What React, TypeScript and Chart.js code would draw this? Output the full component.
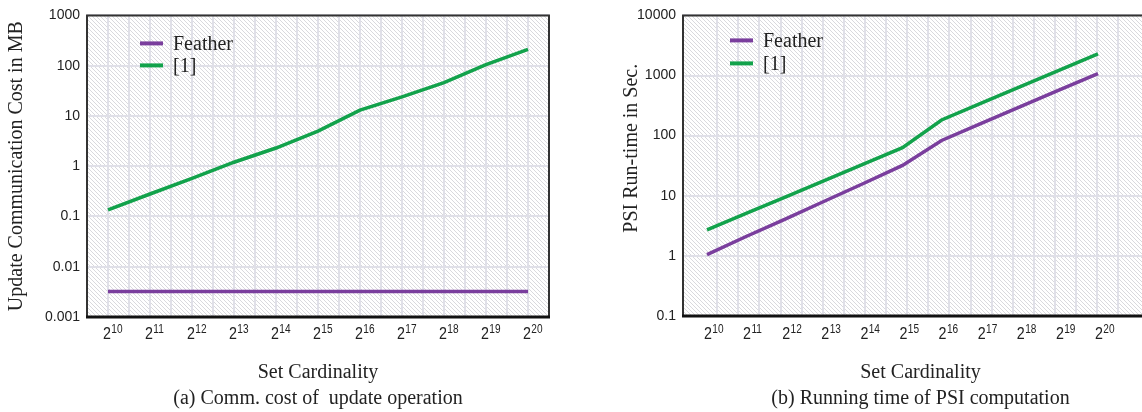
import React, { useEffect, useRef } from 'react';
import { Chart, registerables } from 'chart.js';

Chart.register(...registerables);

// ---- data ----
const exponents = [10, 11, 12, 13, 14, 15, 16, 17, 18, 19, 20];
const seriesNames = ['Feather', '[1]'];
const commFeather = [0.0032, 0.0032, 0.0032, 0.0032, 0.0032, 0.0032, 0.0032, 0.0032, 0.0032, 0.0032, 0.0032];
const commRef1 = [0.135, 0.28, 0.57, 1.2, 2.3, 5, 13, 24, 46, 105, 210];
const psiFeather = [1.05, 2.1, 4.1, 8.1, 16, 32, 83, 158, 300, 570, 1075];
const psiRef1 = [2.7, 5.1, 9.5, 17.9, 33.6, 63, 182, 343, 645, 1215, 2290];
const leftYTicks = [0.001, 0.01, 0.1, 1, 10, 100, 1000];
const leftYTickLabels = ['0.001', '0.01', '0.1', '1', '10', '100', '1000'];
const rightYTicks = [0.1, 1, 10, 100, 1000, 10000];
const rightYTickLabels = ['0.1', '1', '10', '100', '1000', '10000'];
const xBase = '2';
const xTitle = 'Set Cardinality';
const leftCaption = '(a) Comm. cost of  update operation';
const rightCaption = '(b) Running time of PSI computation';
const leftYTitle = 'Update Communication Cost in MB';
const rightYTitle = '       PSI Run-time in Sec.';

const PURPLE = '#7a3e9d';
const GREEN = '#12a24b';
const SANS = '"Liberation Sans", Arial, sans-serif';
const SERIF = '"Liberation Serif", "Times New Roman", serif';

const decorPlugin = {
  id: 'decor',
  beforeDraw(chart: any) {
    const { ctx, chartArea: ca } = chart;
    const tile = document.createElement('canvas');
    tile.width = 4;
    tile.height = 4;
    const g = tile.getContext('2d')!;
    g.fillStyle = '#ffffff';
    g.fillRect(0, 0, 4, 4);
    g.fillStyle = '#d9d9dd';
    for (let i = 0; i < 4; i++) g.fillRect(i, i, 1, 1);
    const pat = ctx.createPattern(tile, 'repeat');
    ctx.save();
    ctx.fillStyle = pat;
    ctx.fillRect(ca.left, ca.top, ca.right - ca.left, ca.bottom - ca.top);
    ctx.restore();
  },
  afterDraw(chart: any, _args: any, opts: any) {
    const { ctx, chartArea: ca } = chart;
    ctx.save();
    // frame
    ctx.strokeStyle = '#333333';
    ctx.lineWidth = 2;
    ctx.beginPath();
    ctx.moveTo(ca.left, ca.bottom);
    ctx.lineTo(ca.left, ca.top);
    ctx.lineTo(ca.right, ca.top);
    ctx.lineTo(ca.right, ca.bottom);
    ctx.stroke();
    ctx.strokeStyle = '#111111';
    ctx.lineWidth = 3;
    ctx.beginPath();
    ctx.moveTo(ca.left - 1, ca.bottom);
    ctx.lineTo(ca.right + 1, ca.bottom);
    ctx.stroke();

    // legend
    const ds = chart.data.datasets;
    ds.forEach((d: any, i: number) => {
      const y = ca.top + opts.legendDY + i * opts.legendGap;
      const x = ca.left + opts.legendDX;
      ctx.strokeStyle = d.borderColor;
      ctx.lineWidth = 4;
      ctx.beginPath();
      ctx.moveTo(x, y);
      ctx.lineTo(x + 23, y);
      ctx.stroke();
      ctx.fillStyle = '#222';
      ctx.font = `20px ${SERIF}`;
      ctx.textBaseline = 'middle';
      ctx.textAlign = 'left';
      ctx.fillText(d.label, x + 33, y + 1);
    });

    // x tick labels 2^n (condensed sans)
    const xs = chart.scales.x;
    ctx.fillStyle = '#222';
    ctx.textBaseline = 'alphabetic';
    ctx.textAlign = 'left';
    const sx = 0.84;
    exponents.forEach((e) => {
      const px = xs.getPixelForValue(e) + opts.labelDX;
      ctx.save();
      ctx.translate(px, 0);
      ctx.scale(sx, 1);
      ctx.font = `17px ${SANS}`;
      ctx.fillText(xBase, 0, 339);
      const w = ctx.measureText(xBase).width;
      ctx.font = `12px ${SANS}`;
      ctx.fillText(String(e), w + 0.5, 333);
      ctx.restore();
    });
    ctx.restore();
  },
};

function makeConfig(p: any) {
  return {
    type: 'line',
    data: {
      datasets: [
        {
          label: seriesNames[0],
          data: exponents.map((e, i) => ({ x: e, y: p.feather[i] })),
          borderColor: PURPLE,
          backgroundColor: PURPLE,
          borderWidth: 3.5,
          pointRadius: 0,
          tension: 0,
        },
        {
          label: seriesNames[1],
          data: exponents.map((e, i) => ({ x: e, y: p.ref1[i] })),
          borderColor: GREEN,
          backgroundColor: GREEN,
          borderWidth: 3.5,
          pointRadius: 0,
          tension: 0,
        },
      ],
    },
    options: {
      animation: false,
      responsive: false,
      maintainAspectRatio: false,
      layout: { padding: { left: 0, top: 11, right: p.padRight, bottom: 0 } },
      plugins: {
        legend: { display: false },
        tooltip: { enabled: false },
        decor: { legendDX: p.legendDX, legendDY: p.legendDY, legendGap: p.legendGap, labelDX: p.labelDX },
      },
      scales: {
        x: {
          type: 'linear',
          position: 'bottom',
          min: p.xMin,
          max: p.xMax,
          ticks: { display: false, stepSize: p.xStep },
          grid: { color: '#e0e0e8', lineWidth: 2, drawTicks: false },
          border: { display: false },
          title: {
            display: true,
            text: [xTitle, p.caption],
            color: '#222',
            font: { family: SERIF, size: 20, lineHeight: 26 / 20 },
            padding: { top: 0, bottom: 0 },
          },
          afterFit: (s: any) => {
            s.height = p.xHeight;
          },
        },
        y: {
          type: 'logarithmic',
          position: 'left',
          min: p.yMin,
          max: p.yMax,
          afterBuildTicks: (s: any) => {
            s.ticks = p.yTicks.map((v: number) => ({ value: v }));
          },
          ticks: {
            callback: (_v: any, i: number) => p.yTickLabels[i],
            color: '#222',
            font: { family: SANS, size: 14 },
            padding: 7,
            autoSkip: false,
          },
          grid: { color: '#e0e0e8', lineWidth: 2, drawTicks: false },
          border: { display: false },
          title: {
            display: true,
            text: p.yTitle,
            color: '#222',
            font: { family: SERIF, size: 20 },
            padding: { top: p.yTitlePad, bottom: 0 },
          },
          afterFit: (s: any) => {
            s.width = p.yWidth;
          },
        },
      },
    },
    plugins: [decorPlugin],
  } as any;
}

function Panel({ left, width, height, config }: any) {
  const ref = useRef<HTMLCanvasElement | null>(null);
  useEffect(() => {
    const chart = new Chart(ref.current as HTMLCanvasElement, config);
    return () => chart.destroy();
  }, []);
  return (
    <canvas
      ref={ref}
      width={width}
      height={height}
      style={{ position: 'absolute', left, top: 0, width, height }}
    />
  );
}

export default function App() {
  const leftCfg = makeConfig({
    feather: commFeather,
    ref1: commRef1,
    yMin: 0.001,
    yMax: 1000,
    yTicks: leftYTicks,
    yTickLabels: leftYTickLabels,
    yTitle: leftYTitle,
    caption: leftCaption,
    xMin: 9.5,
    xMax: 20.5,
    xStep: 0.5,
    xHeight: 95,
    yWidth: 87,
    yTitlePad: 5,
    padRight: 11,
    legendDX: 53,
    legendDY: 28,
    legendGap: 22,
    labelDX: -5,
  });
  const rightCfg = makeConfig({
    feather: psiFeather,
    ref1: psiRef1,
    yMin: 0.1,
    yMax: 10000,
    yTicks: rightYTicks,
    yTickLabels: rightYTickLabels,
    yTitle: rightYTitle,
    caption: rightCaption,
    xMin: 9.386,
    xMax: 21.535,
    xStep: 0.54,
    xHeight: 96,
    yWidth: 83,
    yTitlePad: 20,
    padRight: 2,
    legendDX: 47,
    legendDY: 25,
    legendGap: 23,
    labelDX: -3,
  });
  return (
    <div
      style={{
        position: 'fixed',
        left: 0,
        top: 0,
        width: 1142,
        height: 412,
        overflow: 'hidden',
        background: '#fff',
      }}
    >
      <Panel left={0} width={560} height={412} config={leftCfg} />
      <Panel left={600} width={560} height={412} config={rightCfg} />
    </div>
  );
}
